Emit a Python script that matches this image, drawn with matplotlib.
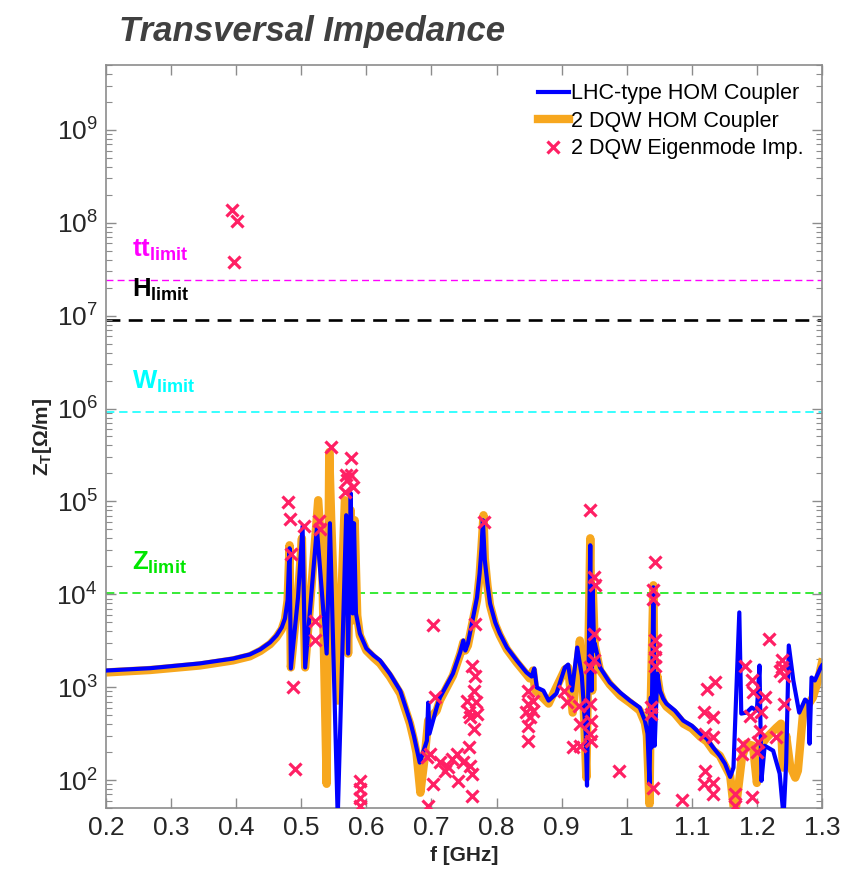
import matplotlib
matplotlib.use("Agg")
import matplotlib.pyplot as plt
from matplotlib.lines import Line2D

# LHC-type HOM coupler: transverse impedance [Ohm/m] vs frequency [GHz]
f_lhc = [0.200, 0.268, 0.344, 0.395, 0.421, 0.437, 0.452, 0.462, 0.470, 0.475,
         0.479, 0.482, 0.484, 0.495, 0.502, 0.506, 0.524, 0.539, 0.544, 0.556,
         0.569, 0.572, 0.576, 0.579, 0.581, 0.584, 0.590, 0.600, 0.611, 0.621,
         0.636, 0.652, 0.659, 0.667, 0.673, 0.677, 0.682, 0.693, 0.695, 0.697,
         0.708, 0.713, 0.723, 0.733, 0.744, 0.749, 0.752, 0.756, 0.764, 0.770,
         0.774, 0.777, 0.779, 0.782, 0.786, 0.790, 0.798, 0.805, 0.816, 0.831,
         0.846, 0.854, 0.858, 0.862, 0.872, 0.880, 0.892, 0.905, 0.910, 0.916,
         0.924, 0.931, 0.937, 0.939, 0.944, 0.946, 0.9475, 0.950, 0.951, 0.959,
         0.974, 0.990, 1.005, 1.020, 1.028, 1.032, 1.035, 1.037, 1.038, 1.041,
         1.043, 1.047, 1.051, 1.056, 1.061, 1.074, 1.087, 1.100, 1.113, 1.123,
         1.133, 1.143, 1.151, 1.159, 1.164, 1.173, 1.176, 1.184, 1.192, 1.200,
         1.204, 1.207, 1.212, 1.225, 1.235, 1.241, 1.245, 1.249, 1.256, 1.265,
         1.274, 1.279, 1.281, 1.284, 1.289, 1.298, 1.300]
z_lhc = [1510, 1600, 1800, 2030, 2250, 2550, 3030, 3600, 4400, 5500,
         8600, 31300, 1590, 9250, 54000, 1630, 51400, 2300, 58200, 40,
         71000, 2300, 122500, 6220, 58200, 6220, 3780, 2610, 2200, 1940,
         1400, 918, 650, 436, 300, 223, 154, 265, 682, 316,
         603, 773, 1040, 1400, 2360, 3180, 2480, 2950, 5630, 9250,
         16800, 32000, 62700, 23200, 13100, 7980, 4980, 3780, 2670, 1940,
         1440, 1300, 1590, 990, 918, 716, 853, 1630, 1750, 918,
         2670, 1330, 316, 87, 33700, 918, 13100, 2480, 2950, 1630,
         1120, 874, 716, 603, 436, 316, 91, 773, 223, 11900,
         234, 1400, 918, 753, 665, 560, 436, 385, 316, 279,
         223, 183, 150, 108, 136, 6380, 519, 532, 603, 560,
         1710, 98, 234, 207, 117, 40, 154, 2810, 1180, 532,
         735, 682, 246, 1270, 1180, 1630, 1710]

# 2 DQW HOM coupler
f_dqw = [0.200, 0.268, 0.344, 0.395, 0.421, 0.437, 0.452, 0.462, 0.470, 0.475,
         0.479, 0.482, 0.484, 0.495, 0.501, 0.506, 0.526, 0.532, 0.539, 0.543,
         0.546, 0.556, 0.567, 0.572, 0.576, 0.579, 0.582, 0.586, 0.590, 0.600,
         0.611, 0.621, 0.636, 0.652, 0.659, 0.667, 0.673, 0.677, 0.683, 0.689,
         0.695, 0.708, 0.713, 0.723, 0.733, 0.744, 0.749, 0.752, 0.756, 0.764,
         0.770, 0.774, 0.777, 0.780, 0.782, 0.786, 0.790, 0.798, 0.805, 0.816,
         0.831, 0.846, 0.851, 0.856, 0.859, 0.880, 0.905, 0.910, 0.917, 0.928,
         0.933, 0.938, 0.944, 0.947, 0.948, 0.951, 0.959, 0.974, 0.990, 1.005,
         1.020, 1.028, 1.031, 1.035, 1.037, 1.041, 1.043, 1.047, 1.051, 1.056,
         1.061, 1.074, 1.087, 1.100, 1.113, 1.123, 1.133, 1.143, 1.159, 1.166,
         1.171, 1.177, 1.184, 1.194, 1.200, 1.206, 1.215, 1.230, 1.237, 1.240,
         1.245, 1.251, 1.259, 1.263, 1.271, 1.286, 1.294, 1.300]
z_dqw = [1440, 1530, 1710, 1940, 2150, 2450, 2900, 3450, 4200, 5360,
         8590, 33700, 1630, 9730, 40100, 1630, 103000, 23200, 91, 340000,
         62700, 716, 103000, 2300, 80400, 5230, 62700, 5920, 3600, 2480,
         2080, 1800, 1300, 853, 600, 405, 270, 197, 73, 161,
         436, 560, 720, 980, 1330, 2250, 3030, 2480, 2810, 5360,
         8590, 16000, 33000, 71000, 24400, 12500, 7590, 4700, 3600, 2550,
         1840, 1370, 1240, 1510, 942, 665, 1550, 1630, 532, 3180,
         918, 106, 40100, 918, 11000, 2810, 1510, 1070, 811, 680,
         560, 410, 300, 55, 716, 12500, 716, 1330, 870, 700,
         618, 520, 405, 360, 293, 260, 207, 183, 111, 40,
         77, 174, 246, 234, 93, 234, 286, 366, 405, 136,
         300, 143, 106, 126, 532, 773, 1180, 1840]

# 2 DQW eigenmode impedances
f_eig = [0.393, 0.401, 0.396,
         0.480, 0.483, 0.484, 0.487, 0.490, 0.504, 0.521, 0.521, 0.528, 0.529,
         0.545, 0.576, 0.569, 0.577, 0.579, 0.567, 0.570,
         0.590, 0.590, 0.590, 0.590,
         0.703, 0.705, 0.695, 0.702, 0.693, 0.698, 0.713, 0.726, 0.731, 0.739,
         0.741, 0.721, 0.749, 0.757, 0.759, 0.762, 0.763, 0.767, 0.763, 0.767,
         0.766, 0.755, 0.768, 0.757, 0.770, 0.759, 0.765, 0.780,
         0.849, 0.849, 0.856, 0.846, 0.851, 0.849, 0.849, 0.856,
         0.903, 0.908, 0.918, 0.928, 0.926, 0.928,
         0.944, 0.949, 0.951, 0.949, 0.949, 0.944, 0.944, 0.945, 0.944, 0.945,
         0.988,
         1.043, 1.041, 1.041, 1.043, 1.043, 1.043, 1.043, 1.038, 1.038, 1.040,
         1.085, 1.123, 1.136, 1.118, 1.133, 1.121, 1.133, 1.121, 1.118, 1.133,
         1.133, 1.166, 1.166, 1.192, 1.182, 1.193, 1.194, 1.212, 1.207, 1.189,
         1.179, 1.177, 1.205, 1.202, 1.200, 1.230, 1.218, 1.238, 1.238, 1.241,
         1.235, 1.241]
z_eig = [1.38e8, 1.04e8, 3.83e7,
         9.9e4, 6.4e4, 2.74e4, 998, 132, 5.4e4, 5.2e3, 3.2e3, 6.2e4, 5.1e4,
         3.87e5, 2.9e5, 1.91e5, 1.91e5, 1.43e5, 1.27e5, 1.69e5,
         98, 80, 64, 52,
         4.7e3, 778, 53, 91, 175, 191, 155, 137, 169, 191,
         98, 126, 155, 225, 143, 116, 68, 4.8e3, 1.71e3, 1.33e3,
         918, 716, 687, 536, 515, 473, 355, 6.0e4,
         918, 661, 716, 536, 473, 385, 265, 560,
         918, 687, 225, 234, 633, 402,
         8.0e4, 1.53e4, 1.25e4, 3.76e3, 1.94e3, 1.64e3, 661, 436, 313, 265,
         126,
         2.22e4, 1.10e4, 8.95e3, 3.18e3, 2.59e3, 2.10e3, 1.71e3, 607, 515, 83,
         61, 959, 1.13e3, 536, 473, 313, 288, 126, 91, 94,
         71, 71, 53, 65, 1.71e3, 1.18e3, 881, 778, 536, 494,
         244, 191, 340, 255, 199, 288, 3.32e3, 1.94e3, 1.64e3, 1.33e3,
         1.51e3, 661]

# stability limits
limit_names = ["tt", "H", "W", "Z"]
limit_values = [2.4e7, 9.0e6, 9.2e5, 1.03e4]
limit_colors = ["#FF00FF", "#000000", "#00FFFF", "#00E600"]

xticks = [0.2, 0.3, 0.4, 0.5, 0.6, 0.7, 0.8, 0.9, 1.0, 1.1, 1.2, 1.3]
xtick_labels = ["0.2", "0.3", "0.4", "0.5", "0.6", "0.7", "0.8", "0.9",
                "1", "1.1", "1.2", "1.3"]

plt.rcParams["font.family"] = ["Liberation Sans", "DejaVu Sans"]
plt.rcParams["mathtext.fontset"] = "custom"
plt.rcParams["mathtext.rm"] = "Liberation Sans"
plt.rcParams["mathtext.bf"] = "Liberation Sans:bold"
plt.rcParams["mathtext.it"] = "Liberation Sans:italic"
plt.rcParams["lines.scale_dashes"] = False

fig = plt.figure(figsize=(8.46, 8.75), dpi=100)
ax = fig.add_axes([0.1253, 0.0766, 0.8463, 0.8491])

ax.plot(f_dqw, z_dqw, color="#F7A71E", lw=6.0, solid_joinstyle="round",
        zorder=2)
ax.plot(f_lhc, z_lhc, color="#0000FF", lw=3.0, zorder=3)
ax.plot(f_eig, z_eig, ls="none", marker="x", ms=8.5, mew=2.3,
        color="#FF2064", zorder=4)

dash_styles = [(0, (5, 3)), (0, (10, 6)), (0, (6, 3.5)), (0, (6, 3.5))]
widths = [1.0, 1.9, 1.1, 1.1]
for name, val, col, ds, w in zip(limit_names, limit_values, limit_colors,
                                 dash_styles, widths):
    ax.axhline(val, color=col, ls=ds, lw=w, zorder=1)
    ax.text(0.24, val * 1.78, r"$\mathbf{%s}_{\mathbf{limit}}$" % name,
            color=col, fontsize=18.5, va="baseline", ha="left")

ax.set_yscale("log")
ax.set_xlim(0.2, 1.3)
ax.set_ylim(50, 5e9)
ax.set_xticks(xticks)
ax.set_xticklabels(xtick_labels)
ax.set_yticks([1e2, 1e3, 1e4, 1e5, 1e6, 1e7, 1e8, 1e9])

for sp in ax.spines.values():
    sp.set_color("#8C8C8C")
    sp.set_linewidth(1.2)
ax.tick_params(which="both", direction="in", top=True, right=True,
               color="#8C8C8C", labelcolor="#262626")
ax.tick_params(which="major", length=7, width=1.0, labelsize=19, pad=6)
ax.tick_params(which="minor", length=4, width=0.8)
ax.tick_params(axis="x", which="minor", length=0)

ax.set_xlabel("f [GHz]", fontsize=15, fontweight="bold", color="#262626",
              labelpad=4)
ax.set_ylabel(r"$\mathbf{Z_T[\Omega/m]}$", fontsize=15, color="#262626",
              labelpad=2)

handles = [Line2D([], [], color="#0000FF", lw=3.0),
           Line2D([], [], color="#F7A71E", lw=6.0),
           Line2D([], [], ls="none", marker="x", ms=8.5, mew=2.3,
                  color="#FF2064")]
labels = ["LHC-type HOM Coupler", "2 DQW HOM Coupler",
          "2 DQW Eigenmode Imp."]
ax.legend(handles, labels, loc="upper right", frameon=False, fontsize=15.5,
          handlelength=1.45, handletextpad=0.1, labelspacing=0.3,
          borderaxespad=0, borderpad=0,
          bbox_to_anchor=(0.95, 0.905), bbox_transform=fig.transFigure)

fig.text(0.1407, 0.953, "Transversal Impedance", fontsize=25,
         fontweight="bold", fontstyle="italic", color="#404040",
         ha="left", va="baseline")

fig.savefig("out.png", dpi=100)
